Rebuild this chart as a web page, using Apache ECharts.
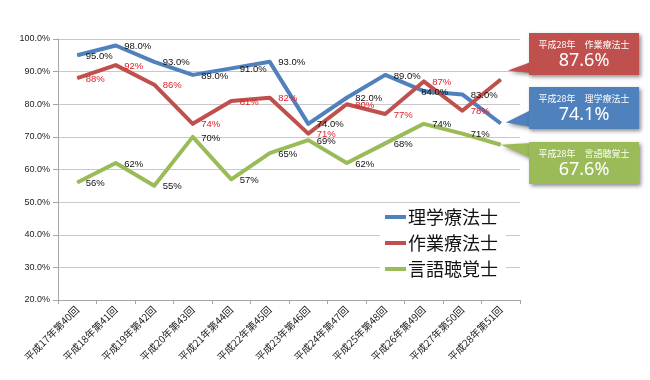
<!DOCTYPE html>
<html><head><meta charset="utf-8">
<script src="https://cdn.jsdelivr.net/npm/echarts@6/dist/echarts.min.js"></script>
<style>html,body{margin:0;padding:0;background:#fff}#c{width:650px;height:380px}</style>
</head><body><div id="c"></div>
<script>
const categories = ['平成17年第40回','平成18年第41回','平成19年第42回','平成20年第43回','平成21年第44回','平成22年第45回','平成23年第46回','平成24年第47回','平成25年第48回','平成26年第49回','平成27年第50回','平成28年第51回'];
const seriesNames = ['理学療法士','作業療法士','言語聴覚士'];
const pt = [95, 98, 93, 89, 91, 93, 74, 82, 89, 84, 83, 74.1];
const ot = [88, 92, 86, 74, 81, 82, 71, 80, 77, 87, 78, 87.6];
const st = [56, 62, 55, 70, 57, 65, 69, 62, 68, 74, 71, 67.6];
const yMin = 20, yMax = 100, yStep = 10;
const calloutYear = '平成28年';

const colors = ['#4f81bd', '#c0504d', '#9bbb59'];
const JP = '"Noto Sans CJK JP", sans-serif';
const last = categories.length - 1;

function mkSeries(name, data, color, labelColor, fmt, overrides) {
  return {
    name, type: 'line',
    data: data.map((v, i) => overrides && overrides[i] ? Object.assign({value: v}, overrides[i]) : v),
    symbol: 'circle', symbolSize: 1, showSymbol: true,
    itemStyle: {color},
    lineStyle: {width: 4, color, join: 'round'},
    label: {
      show: true, position: 'right', distance: 8, offset: [0, 1],
      color: labelColor, fontSize: 9.5, fontFamily: '"Liberation Sans", Arial, sans-serif',
      formatter: p => p.dataIndex === last ? '' : fmt(p.value)
    },
    emphasis: {disabled: true},
    animation: false
  };
}

const chart = echarts.init(document.getElementById('c'));
chart.setOption({
  animation: false,
  grid: {left: 58, right: 130, top: 39, bottom: 80},
  legend: {
    orient: 'vertical', left: 380, top: 204,
    backgroundColor: '#fff', padding: [4, 8, 4, 5], itemGap: 8,
    icon: 'rect', itemWidth: 21, itemHeight: 4,
    textStyle: {fontSize: 18, color: '#111', fontFamily: JP, padding: [0, 0, 0, -3]},
    data: seriesNames
  },
  xAxis: {
    type: 'category', data: categories, boundaryGap: true,
    axisLine: {lineStyle: {color: '#a6a6a6'}},
    axisTick: {show: true, length: 4, lineStyle: {color: '#a6a6a6'}},
    axisLabel: {rotate: 45, fontSize: 10, color: '#222', fontFamily: JP, margin: 8, interval: 0}
  },
  yAxis: {
    type: 'value', min: yMin, max: yMax, interval: yStep,
    axisLine: {show: true, lineStyle: {color: '#a6a6a6'}},
    axisTick: {show: true, length: 5, lineStyle: {color: '#a6a6a6'}},
    splitLine: {lineStyle: {color: '#c8c8c8'}},
    axisLabel: {fontSize: 9, color: '#222', fontFamily: '"Liberation Sans", Arial, sans-serif', margin: 8,
      formatter: v => v.toFixed(1) + '%'}
  },
  series: [
    mkSeries(seriesNames[0], pt, colors[0], '#111', v => v.toFixed(1) + '%', {9: {label: {offset: [-11, 1]}}}),
    mkSeries(seriesNames[1], ot, colors[1], '#e0202a', v => Math.round(v) + '%'),
    mkSeries(seriesNames[2], st, colors[2], '#111', v => Math.round(v) + '%')
  ]
});

const specs = [
  {name: seriesNames[1], data: ot, color: colors[1], top: 33, tip: [7, -9], base: [62, 73]},
  {name: seriesNames[0], data: pt, color: colors[0], top: 87, tip: [5, -1], base: [110, 127]},
  {name: seriesNames[2], data: st, color: colors[2], top: 142, tip: [0, 0], base: [143, 158]}
];
const bx = 529, bw = 110, bh = 42;
const shadow = {shadowBlur: 4, shadowColor: 'rgba(0,0,0,0.45)', shadowOffsetX: 2, shadowOffsetY: 2};
const graphic = [];
specs.forEach(s => {
  const p = chart.convertToPixel({seriesName: s.name}, [last, s.data[last]]);
  const tx = p[0] + s.tip[0], ty = p[1] + s.tip[1];
  graphic.push({type: 'polygon', z: 100, shape: {points: [[bx + 2, s.base[0]], [tx, ty], [bx + 2, s.base[1]]]},
    style: Object.assign({fill: s.color}, shadow)});
  graphic.push({type: 'rect', z: 101, shape: {x: bx, y: s.top, width: bw, height: bh},
    style: Object.assign({fill: s.color}, shadow)});
  graphic.push({type: 'text', z: 102, style: {text: calloutYear + '\u3000' + s.name, x: bx + bw / 2, y: s.top + 12,
    fill: '#fff', fontSize: 9, fontFamily: JP, align: 'center', verticalAlign: 'middle'}});
  graphic.push({type: 'text', z: 102, style: {text: s.data[last].toFixed(1) + '%', x: bx + bw / 2, y: s.top + 28,
    fill: '#fff', fontSize: 18, fontFamily: '"Noto Sans", sans-serif', align: 'center', verticalAlign: 'middle'}});
});
chart.setOption({graphic});
</script>
</body></html>
